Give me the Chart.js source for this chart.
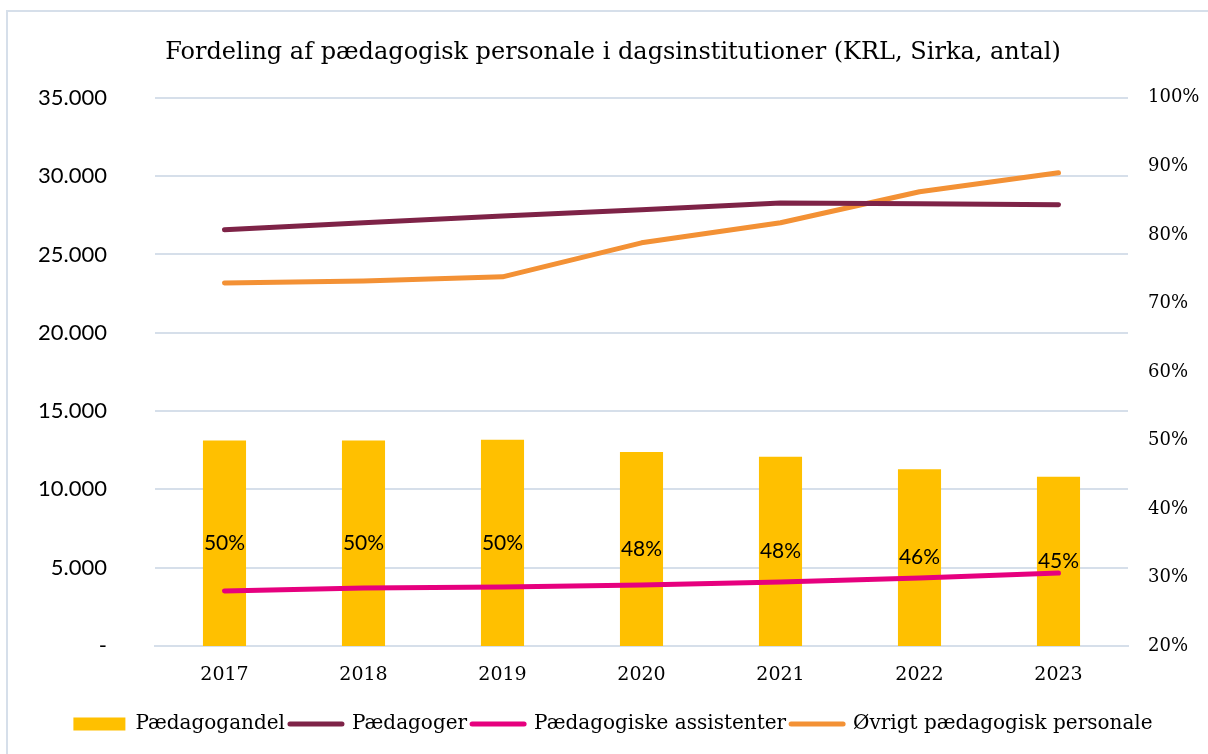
<!DOCTYPE html>
<html>
<head>
<meta charset="utf-8">
<script src="https://cdn.jsdelivr.net/npm/chart.js@4/dist/chart.umd.min.js"></script>
<style>
  html, body { margin: 0; padding: 0; background: #fff; overflow: hidden; }
  #wrap { position: relative; width: 1208px; height: 754px; }
  #ramme { position: absolute; left: 6px; top: 10px; width: 1300px; height: 900px;
           border: 2px solid #D6DFEA; pointer-events: none; }
</style>
</head>
<body>
<div id="wrap">
  <canvas id="graf" width="1208" height="754"></canvas>
  <div id="ramme"></div>
</div>
<script>
// ================= DATA =================
const AAR = ["2017", "2018", "2019", "2020", "2021", "2022", "2023"];

// andel pædagoger (højre akse, %)
const PAEDAGOGANDEL = [50.0, 50.0, 50.1, 48.3, 47.6, 45.8, 44.7];
const ANDEL_LABELS = ["50%", "50%", "50%", "48%", "48%", "46%", "45%"];

// antal (venstre akse)
const PAEDAGOGER = [26570, 27020, 27460, 27850, 28290, 28230, 28170];
const ASSISTENTER = [3510, 3700, 3770, 3900, 4090, 4340, 4660];
const OEVRIGT = [23180, 23310, 23570, 25740, 27020, 29000, 30210];

const VENSTRE_TICKS = [0, 5000, 10000, 15000, 20000, 25000, 30000, 35000];
const HOEJRE_TICKS = [20, 30, 40, 50, 60, 70, 80, 90, 100];

// ================= SKRIFT =================
const SLAB = "DejaVu Serif";
const SANS = "Lato";

// etiketter midt i søjlerne
const andelLabels = {
  id: "andelLabels",
  afterDatasetsDraw(chart) {
    const ctx = chart.ctx;
    const meta = chart.getDatasetMeta(0);
    const bund = chart.chartArea.bottom;
    ctx.save();
    ctx.font = "21px " + SANS;
    ctx.fillStyle = "#000";
    ctx.textAlign = "center";
    ctx.textBaseline = "middle";
    meta.data.forEach((bar, i) => {
      const midt = (bar.y + Math.min(bar.base, bund)) / 2;
      ctx.fillText(ANDEL_LABELS[i], bar.x, midt);
    });
    ctx.restore();
  }
};

function linje(label, data, farve) {
  return {
    type: "line",
    label,
    data,
    yAxisID: "y",
    borderColor: farve,
    backgroundColor: farve,
    borderWidth: 5,
    borderCapStyle: "round",
    borderJoinStyle: "round",
    pointRadius: 0,
    tension: 0,
    order: 0
  };
}

const grafik = new Chart(document.getElementById("graf").getContext("2d"), {
  data: {
    labels: AAR,
    datasets: [
      {
        type: "bar",
        label: "Pædagogandel",
        data: PAEDAGOGANDEL,
        yAxisID: "y1",
        backgroundColor: "#FFC000",
        barPercentage: 0.31,
        categoryPercentage: 1,
        order: 1
      },
      linje("Pædagoger", PAEDAGOGER, "#7E2347"),
      linje("Pædagogiske assistenter", ASSISTENTER, "#E6007E"),
      linje("Øvrigt pædagogisk personale", OEVRIGT, "#F39135")
    ]
  },
  options: {
    responsive: false,
    animation: false,
    layout: { padding: { left: 18, top: 0, right: 0, bottom: 10 } },
    plugins: {
      title: {
        display: true,
        text: "Fordeling af pædagogisk personale i dagsinstitutioner (KRL, Sirka, antal)",
        color: "#000",
        font: { family: SLAB, size: 24, weight: "normal" },
        padding: { top: 38, bottom: 31 }
      },
      legend: {
        position: "bottom",
        labels: {
          color: "#000",
          font: { family: SLAB, size: 20 },
          usePointStyle: true,
          pointStyleWidth: 52,
          boxHeight: 13,
          padding: 5,
          sort: (a, b) => a.datasetIndex - b.datasetIndex,
          generateLabels(chart) {
            return chart.data.datasets.map((ds, i) => {
              const erBar = ds.type === "bar";
              return {
                text: ds.label,
                datasetIndex: i,
                fillStyle: ds.backgroundColor,
                strokeStyle: erBar ? ds.backgroundColor : ds.borderColor,
                lineWidth: erBar ? 0 : 5,
                lineCap: "round",
                pointStyle: erBar ? "rect" : "line",
                fontColor: "#000",
                hidden: false
              };
            });
          }
        }
      },
      tooltip: { enabled: false }
    },
    scales: {
      x: {
        grid: { display: false, drawTicks: false },
        border: { display: true, color: "#D6DFEA", width: 2 },
        ticks: { color: "#000", font: { family: SLAB, size: 19 }, padding: 18 },
        afterFit(s) { s.height = 63; }
      },
      y: {
        position: "left",
        min: 0,
        max: 35000,
        afterBuildTicks(s) { s.ticks = VENSTRE_TICKS.map(v => ({ value: v })); },
        grid: { color: "#D6DFEA", lineWidth: 2, drawTicks: false },
        border: { display: false },
        ticks: {
          color: "#000",
          font: { family: SANS, size: 22 },
          padding: 48,
          callback: v => v === 0 ? "-" : v.toLocaleString("da-DK")
        },
        afterFit(s) { s.width = 137; }
      },
      y1: {
        position: "right",
        min: 20,
        max: 100,
        afterBuildTicks(s) { s.ticks = HOEJRE_TICKS.map(v => ({ value: v })); },
        grid: { display: false, drawTicks: false },
        border: { display: false },
        ticks: {
          color: "#000",
          font: { family: SLAB, size: 18 },
          padding: 20,
          callback: v => v + "%"
        },
        afterFit(s) { s.width = 80; }
      }
    }
  },
  plugins: [andelLabels]
});
</script>
</body>
</html>
